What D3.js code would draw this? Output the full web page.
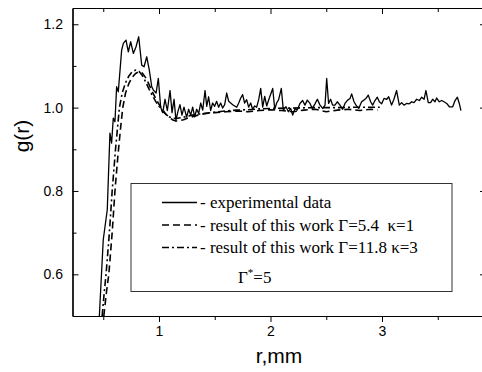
<!DOCTYPE html>
<html><head><meta charset="utf-8">
<script src="https://cdn.jsdelivr.net/npm/d3@7"></script>
<style>html,body{margin:0;padding:0;background:#fff;overflow:hidden}</style>
</head><body><svg id="c" width="482" height="372"></svg>
<script>
// ---- data ----
const expR = [0.465,0.500,0.536,0.560,0.575,0.590,0.605,0.620,0.635,0.665,0.680,0.704,0.725,0.746,0.770,0.794,0.818,0.845,0.866,0.890,0.913,0.935,0.950,0.974,0.994,1.015,
1.033,1.054,1.075,1.099,1.117,1.135,1.152,1.170,1.188,1.206,1.224,1.248,1.266,1.284,1.302,1.320,1.338,1.356,1.374,1.392,1.413,1.428,1.445,1.463,1.481,1.499,1.517,1.535,1.553,1.571,1.589,1.607,1.625,1.643,1.661,1.679,1.697,1.715,1.733,1.750,1.768,1.786,1.804,1.822,1.840,1.858,1.876,1.894,1.912,1.930,1.948,1.966,1.984,2.020,2.038,2.055,2.073,2.097,
2.115,2.139,2.160,2.181,2.199,2.220,2.240,2.264,2.288,2.309,2.330,2.354,2.375,2.399,2.420,2.444,2.468,2.489,2.504,2.521,2.539,2.557,2.578,2.599,2.623,2.647,2.668,2.692,2.713,2.728,2.749,2.767,2.791,2.817,2.838,2.856,2.877,2.898,2.916,2.937,2.958,2.976,2.997,3.018,3.042,3.060,
3.086,3.107,3.131,3.155,3.176,3.197,3.221,3.245,3.266,3.287,3.311,3.335,3.356,3.377,3.394,3.415,3.436,3.454,3.475,3.490,3.514,3.535,3.556,3.580,3.604,3.634,3.655,3.676,3.693,3.708];
const expG = [0.50,0.683,0.755,0.939,0.915,0.975,0.966,1.050,1.038,1.138,1.154,1.162,1.134,1.158,1.130,1.146,1.170,1.102,1.098,1.122,1.090,1.050,1.042,1.035,1.070,1.001,
0.988,1.020,0.993,1.041,0.988,1.020,0.970,0.991,1.007,0.982,1.001,0.977,0.996,0.982,1.001,0.978,0.996,0.986,1.011,0.994,1.041,1.003,1.026,0.993,1.011,1.003,1.015,1.001,1.011,0.999,1.007,1.035,1.015,1.011,1.007,1.004,1.001,1.011,1.023,1.031,1.011,1.019,1.001,1.011,0.996,1.004,1.001,1.019,1.046,1.001,1.027,1.004,1.019,1.046,0.996,1.011,1.019,1.046,
0.994,1.002,0.990,0.998,0.982,0.998,0.994,1.010,1.017,1.006,1.018,1.010,0.998,1.009,1.020,1.006,0.998,1.006,1.070,1.010,1.020,1.006,1.006,1.014,1.006,0.996,1.010,1.018,1.022,1.033,1.014,1.006,0.998,1.014,1.018,1.022,1.030,1.014,1.006,1.017,1.025,1.014,1.009,1.022,1.020,1.026,
1.006,1.020,1.041,1.006,1.012,1.006,1.010,1.009,1.014,1.012,1.020,1.017,1.025,1.020,1.041,1.012,1.012,1.020,1.014,1.023,1.014,1.017,1.014,1.010,1.002,1.002,1.017,1.025,1.010,0.993];

// Γ=5.4 κ=1 (dashed)
const modelAR = [0.505,0.53,0.55,0.58,0.605,0.63,0.655,0.675,0.70,0.73,0.76,0.79,0.82,0.85,0.88,0.91,0.94,0.97,1.00,1.03,1.06,1.09,1.12,1.15,1.18,1.22,1.26,1.30,1.35,1.40,1.45,1.50,1.60,1.70,1.80,1.90,2.00,2.10,2.20,2.30,2.40,2.50,2.60,2.70,2.80,2.90,2.96];
const modelAG = [0.50,0.56,0.60,0.70,0.80,0.88,0.95,1.00,1.035,1.058,1.073,1.082,1.086,1.083,1.072,1.056,1.038,1.022,1.008,0.996,0.985,0.977,0.971,0.968,0.968,0.971,0.975,0.978,0.982,0.985,0.987,0.988,0.990,0.992,0.990,0.993,0.995,0.993,0.990,0.994,0.996,0.990,0.994,0.996,0.993,0.996,0.994];
// Γ=11.8 κ=3 (dash-dot)
const modelBR = [0.49,0.51,0.525,0.555,0.58,0.61,0.645,0.67,0.70,0.73,0.76,0.79,0.82,0.85,0.88,0.91,0.94,0.97,1.00,1.03,1.06,1.09,1.12,1.15,1.20,1.25,1.30,1.40,1.50,1.60,1.70,1.80,1.90,2.00,2.20,2.40,2.60,2.80,2.98];
const modelBG = [0.50,0.56,0.60,0.70,0.80,0.90,1.00,1.035,1.06,1.076,1.086,1.090,1.087,1.077,1.062,1.045,1.029,1.015,1.003,0.992,0.984,0.978,0.975,0.974,0.976,0.979,0.982,0.986,0.989,0.992,0.994,0.995,0.997,0.998,0.999,1.000,1.000,1.001,1.001];

const xMajorTicks = [1, 2, 3];
const xMinorTicks = [0.5, 1.5, 2.5, 3.5];
const yMajorTicks = [0.6, 0.8, 1.0, 1.2];
const yMinorTicks = [0.7, 0.9, 1.1];
const xDomain = [0.2242, 3.9327];
const yDomain = [0.5, 1.239];
const legendLabels = ["- experimental data", "- result of this work \u0393=5.4  \u03BA=1", "- result of this work \u0393=11.8 \u03BA=3"];
const legendDash = [null, "7,4", "7,3,2,3"];

// ---- drawing ----
const L = 72.5, R = 486, T = 8, B = 316;
const svg = d3.select("#c");
const x = d3.scaleLinear().domain(xDomain).range([L, R]);
const y = d3.scaleLinear().domain(yDomain).range([B, T]);
const sansFont = "'Liberation Sans', Arial, sans-serif";
const serifFont = "'Liberation Serif', 'Times New Roman', serif";

svg.append("defs").append("clipPath").attr("id","clip")
  .append("rect").attr("x",L).attr("y",T).attr("width",R-L).attr("height",B-T);

function styleAxis(g){
  g.selectAll("path.domain").attr("stroke","#000").attr("stroke-width",1.2);
  g.selectAll(".tick line").attr("stroke","#000").attr("stroke-width",1);
  g.selectAll("text").attr("font-family",sansFont).attr("font-size",14).attr("fill","#000");
}
// bottom
svg.append("g").attr("transform",`translate(0,${B})`)
  .call(d3.axisBottom(x).tickValues(xMajorTicks).tickSize(6).tickSizeOuter(0).tickPadding(4).tickFormat(d3.format("d"))).call(styleAxis);
svg.append("g").attr("transform",`translate(0,${B})`)
  .call(d3.axisBottom(x).tickValues(xMinorTicks).tickSize(4).tickSizeOuter(0).tickFormat("")).call(styleAxis);
// top
svg.append("g").attr("transform",`translate(0,${T})`)
  .call(d3.axisTop(x).tickValues(xMajorTicks).tickSize(-6).tickSizeOuter(0).tickFormat("")).call(styleAxis);
svg.append("g").attr("transform",`translate(0,${T})`)
  .call(d3.axisTop(x).tickValues(xMinorTicks).tickSize(-4).tickSizeOuter(0).tickFormat("")).call(styleAxis);
// left
svg.append("g").attr("transform",`translate(${L},0)`)
  .call(d3.axisLeft(y).tickValues(yMajorTicks).tickSize(-6).tickSizeOuter(0).tickPadding(9.5).tickFormat(d3.format(".1f"))).call(styleAxis);
svg.append("g").attr("transform",`translate(${L},0)`)
  .call(d3.axisLeft(y).tickValues(yMinorTicks).tickSize(-4).tickSizeOuter(0).tickFormat("")).call(styleAxis);
// right
svg.append("g").attr("transform",`translate(${R},0)`)
  .call(d3.axisRight(y).tickValues(yMajorTicks).tickSize(-6).tickSizeOuter(0).tickFormat("")).call(styleAxis);
svg.append("g").attr("transform",`translate(${R},0)`)
  .call(d3.axisRight(y).tickValues(yMinorTicks).tickSize(-4).tickSizeOuter(0).tickFormat("")).call(styleAxis);

// axis titles
svg.append("text").attr("x",279).attr("y",363).attr("text-anchor","middle")
  .attr("font-family",sansFont).attr("font-size",21).text("r,mm");
svg.append("text").attr("transform","translate(29,136) rotate(-90)").attr("text-anchor","middle")
  .attr("font-family",sansFont).attr("font-size",21).text("g(r)");

// series
const line = d3.line().x(d=>x(d[0])).y(d=>y(d[1]));
const plot = svg.append("g").attr("clip-path","url(#clip)");
const series = [
  {r: expR, g: expG, dash: null, w: 1.3},
  {r: modelAR, g: modelAG, dash: legendDash[1], w: 1.6},
  {r: modelBR, g: modelBG, dash: legendDash[2], w: 1.6}
];
series.forEach(s=>{
  plot.append("path").datum(s.r.map((v,i)=>[v,s.g[i]]))
    .attr("d",line).attr("fill","none").attr("stroke","#000")
    .attr("stroke-width",s.w).attr("stroke-linejoin","round")
    .attr("stroke-dasharray",s.dash);
});

// legend
const lg = svg.append("g");
lg.append("rect").attr("x",131).attr("y",183.5).attr("width",321).attr("height",108)
  .attr("fill","#fff").attr("stroke","#333").attr("stroke-width",1);
const rowY = [208, 230.5, 253];
legendLabels.forEach((t,i)=>{
  lg.append("line").attr("x1",162).attr("x2",197).attr("y1",rowY[i]-5.5).attr("y2",rowY[i]-5.5)
    .attr("stroke","#000").attr("stroke-width",1.6).attr("stroke-dasharray",legendDash[i]);
  lg.append("text").attr("x",200).attr("y",rowY[i]).attr("font-family",serifFont).attr("font-size",17)
    .style("white-space","pre").text(t);
});
const t4 = lg.append("text").attr("x",238).attr("y",283).attr("font-family",serifFont).attr("font-size",17);
t4.append("tspan").text("\u0393");
t4.append("tspan").attr("dy",-7).attr("font-size",11).text("*");
t4.append("tspan").attr("dy",7).text("=5");
</script></body></html>
